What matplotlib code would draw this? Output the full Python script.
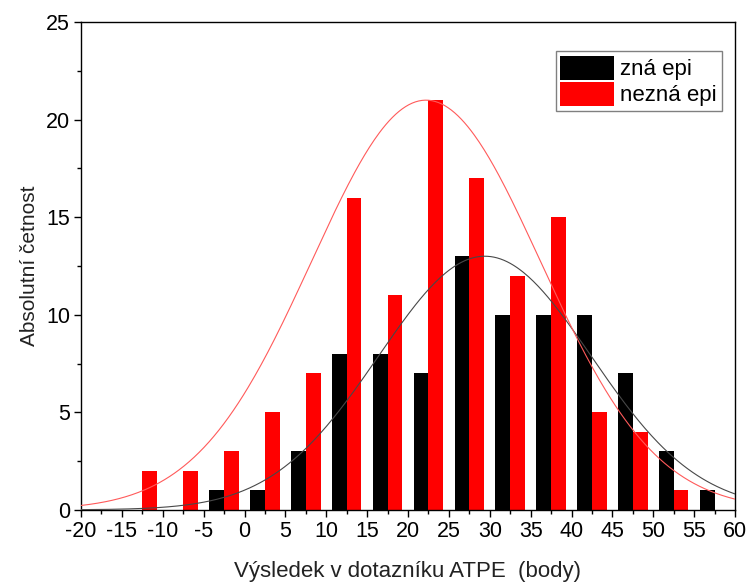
import matplotlib
matplotlib.use("Agg")
import matplotlib.pyplot as plt
import numpy as np
from matplotlib.ticker import MultipleLocator

plt.rcParams['font.family'] = ['Liberation Sans', 'DejaVu Sans']
plt.rcParams['axes.unicode_minus'] = False

# bin centres (bin width 5 points)
bin_centers = [-12.5, -7.5, -2.5, 2.5, 7.5, 12.5, 17.5, 22.5, 27.5,
               32.5, 37.5, 42.5, 47.5, 52.5, 57.5]
zna_epi = [0, 0, 1, 1, 3, 8, 8, 7, 13, 10, 10, 10, 7, 3, 1]
nezna_epi = [2, 2, 3, 5, 7, 16, 11, 21, 17, 12, 15, 5, 4, 1, 0]

# gaussian fits (peak height, mean, sigma)
zna_fit = (13.0, 29.4, 13.0)
nezna_fit = (21.0, 22.2, 14.0)

bar_w = 1.8


def gauss(x, a, mu, s):
    return a * np.exp(-0.5 * ((x - mu) / s) ** 2)


fig = plt.figure(figsize=(7.5, 5.82), dpi=100)
ax = fig.add_axes([0.108, 0.124, 0.872, 0.838])

x = np.array(bin_centers)
ax.bar(x, zna_epi, width=-bar_w, align='edge', color='black', label='zná epi', zorder=2)
ax.bar(x, nezna_epi, width=bar_w, align='edge', color='#ff0000', label='nezná epi', zorder=2)

xs = np.linspace(-20, 60, 400)
ax.plot(xs, gauss(xs, *zna_fit), color='#484848', lw=0.8, zorder=3)
ax.plot(xs, gauss(xs, *nezna_fit), color='#ff5a5a', lw=0.8, zorder=3)

ax.set_xlim(-20, 60)
ax.set_ylim(0, 25)
ax.xaxis.set_major_locator(MultipleLocator(5))
ax.xaxis.set_minor_locator(MultipleLocator(2.5))
ax.yaxis.set_major_locator(MultipleLocator(5))
ax.yaxis.set_minor_locator(MultipleLocator(2.5))
ax.tick_params(which='major', direction='out', length=5, width=1, labelsize=15.5, pad=3)
ax.tick_params(which='minor', direction='out', length=3, width=1)
for sp in ax.spines.values():
    sp.set_linewidth(1)

ax.set_xlabel('Výsledek v dotazníku ATPE  (body)', fontsize=16, labelpad=14, color='#222222')
ax.set_ylabel('Absolutní četnost', fontsize=15, labelpad=5, color='#222222')

leg = ax.legend(loc='upper right', bbox_to_anchor=(0.98, 0.94), borderaxespad=0,
                fontsize=16, handlelength=2.4, handleheight=1.25,
                labelspacing=0.08, handletextpad=0.3, borderpad=0.22,
                fancybox=False, framealpha=1)
leg.get_frame().set_edgecolor('#808080')
leg.get_frame().set_linewidth(1)

fig.savefig('out.png', dpi=100)
